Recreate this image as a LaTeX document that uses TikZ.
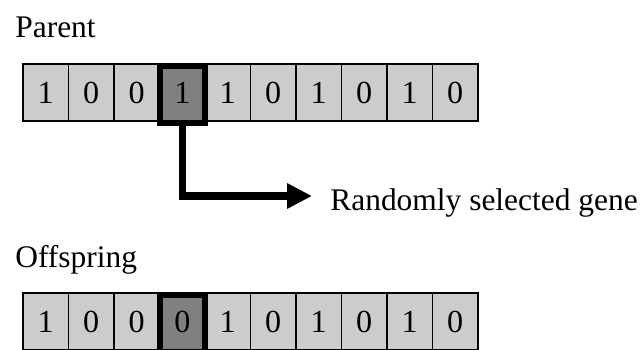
\documentclass[tikz,border=0pt]{standalone}
\usepackage{fontspec}
\setmainfont{Liberation Serif}
\usepackage{tikz}
\usetikzlibrary{arrows.meta}
\definecolor{cellgray}{HTML}{CCCCCC}
\definecolor{selgray}{HTML}{808080}
\tikzstyle{cell} = [rectangle, draw, line width=1.1pt, fill=cellgray, minimum width=0.91cm, minimum height=1.14cm, inner sep=0pt, font=\fontsize{18.3}{20}\selectfont]
\tikzstyle{selcell} = [cell, fill=selgray, line width=3.4pt, minimum width=0.9cm, text depth=0.08cm]
\tikzstyle{title} = [anchor=base west, inner sep=0pt, font=\fontsize{17.9}{20}\selectfont]
\tikzstyle{pick} = [line width=4.4pt, -{Triangle[length=0.5cm, width=0.48cm]}]

\begin{document}
\begin{tikzpicture}[x=0.02cm, y=-0.02cm]
        \clip (0,0) rectangle (642,349);
        \node (parent) [title] at (15,37) {Parent};
        \node (offspring) [title] at (15,267) {Offspring};
        \foreach \b [count=\i] in {1,0,0,1,1,0,1,0,1,0} {
            \ifnum\i=4 \else
            \node (p\i) [cell] at ({23+45.5*(\i-0.5)},92.5) {\b};
            \fi
        }
        \foreach \b [count=\i] in {1,0,0,0,1,0,1,0,1,0} {
            \ifnum\i=4 \else
            \node (o\i) [cell] at ({23+45.5*(\i-0.5)},321.5) {\b};
            \fi
        }
        \node (p4) [selcell] at (182.5,94.5) {1};
        \node (o4) [selcell] at (182.5,323.5) {0};
        \node (gene) [title] at (330,210) {Randomly selected gene};
        \coordinate (tip) at (312,196);
        \draw[pick] (p4.south) |- (tip);
    \end{tikzpicture}
\end{document}
